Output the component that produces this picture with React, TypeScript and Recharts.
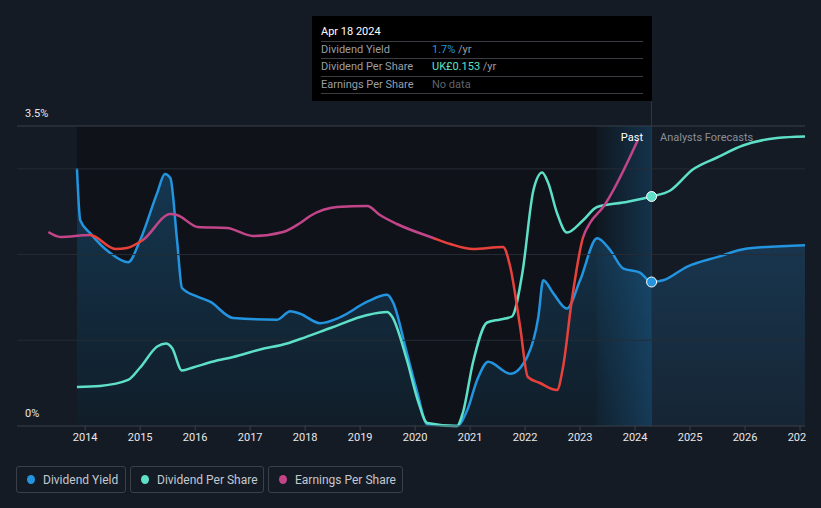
import React from 'react';
import { ComposedChart, Line, Area, XAxis, YAxis, ReferenceLine, ReferenceArea, ReferenceDot } from 'recharts';

const BG = '#151b25';
const PAST_BG = '#0f1319';
const BLUE = '#2394df';
const TEAL = '#5ee0c8';
const PINK = '#c2458a';
const RED = '#e8413b';

// dividend yield (%), past + forecast
const yieldYears = [2013.85, 2013.91, 2014.09, 2014.45, 2014.78, 2015.0, 2015.31, 2015.45, 2015.55, 2015.67, 2015.76, 2016.04, 2016.27, 2016.69, 2017.49, 2017.73, 2017.91, 2018.27, 2018.64, 2019.13, 2019.49, 2019.6, 2019.85, 2020.04, 2020.22, 2020.76, 2020.95, 2021.13, 2021.33, 2021.73, 2022.04, 2022.24, 2022.33, 2022.51, 2022.76, 2023.0, 2023.31, 2023.55, 2023.78, 2024.09, 2024.3, 2024.51, 2024.95, 2025.49, 2026.04, 2027.09];
const yieldValues = [3.01, 2.4, 2.25, 2.02, 1.91, 2.17, 2.72, 2.94, 2.89, 2.17, 1.61, 1.51, 1.45, 1.26, 1.24, 1.34, 1.31, 1.2, 1.27, 1.45, 1.53, 1.44, 0.85, 0.39, 0.02, 0.0, 0.19, 0.54, 0.75, 0.61, 0.81, 1.27, 1.7, 1.55, 1.37, 1.7, 2.19, 2.05, 1.84, 1.79, 1.68, 1.7, 1.86, 1.97, 2.07, 2.11];

// dividend per share (UK£)
const dpsYears = [2013.85, 2014.27, 2014.78, 2015.0, 2015.31, 2015.47, 2015.58, 2015.76, 2015.96, 2016.33, 2016.69, 2017.18, 2017.67, 2017.91, 2018.51, 2019.13, 2019.49, 2019.58, 2019.85, 2020.05, 2020.22, 2020.76, 2020.87, 2021.05, 2021.31, 2021.55, 2021.76, 2021.95, 2022.15, 2022.31, 2022.42, 2022.58, 2022.76, 2023.05, 2023.31, 2023.78, 2024.3, 2024.64, 2025.05, 2025.49, 2025.96, 2026.58, 2027.09];
const dpsValues = [0.026, 0.0267, 0.0307, 0.039, 0.053, 0.055, 0.052, 0.037, 0.039, 0.043, 0.046, 0.051, 0.055, 0.058, 0.066, 0.074, 0.076, 0.073, 0.044, 0.017, 0.002, 0.0, 0.009, 0.042, 0.069, 0.071, 0.073, 0.102, 0.157, 0.169, 0.162, 0.142, 0.129, 0.137, 0.146, 0.149, 0.153, 0.157, 0.171, 0.179, 0.187, 0.192, 0.193];

// earnings per share (p)
const epsYears = [2013.33, 2013.55, 2014.09, 2014.55, 2014.76, 2015.05, 2015.55, 2015.67, 2016.05, 2016.58, 2017.05, 2017.6, 2017.91, 2018.09, 2018.58, 2019.13, 2019.36, 2019.67, 2020.33, 2020.64, 2021.05, 2021.6, 2021.73, 2021.91, 2022.05, 2022.27, 2022.58, 2022.69, 2022.85, 2023.05, 2023.18, 2023.42, 2024.05];
const epsValues = [19.4, 18.9, 19.1, 17.7, 17.8, 18.6, 21.2, 21.1, 19.9, 19.8, 19.0, 19.4, 20.3, 21.0, 21.9, 22.0, 21.1, 20.2, 18.8, 18.2, 17.7, 17.9, 15.9, 9.9, 4.9, 4.3, 3.6, 5.9, 12.6, 18.8, 20.3, 21.9, 28.6];
// periods where the EPS line is drawn red
const epsRedRanges = [[2014.09, 2015.05], [2020.33, 2023.05]];

const xTicks = [2014, 2015, 2016, 2017, 2018, 2019, 2020, 2021, 2022, 2023, 2024, 2025, 2026, 2027];
const gridValues = [1, 2, 3];
const PAST_START = 2013.85;
const TODAY = 2024.3;
const HIGHLIGHT_START = 2023.3;

const yieldData = yieldYears.map((year, i) => ({ year, value: yieldValues[i] }));
const dpsData = dpsYears.map((year, i) => ({ year, value: dpsValues[i] }));
const epsData = epsYears.map((year, i) => ({ year, value: epsValues[i] }));

const epsStops = () => {
  const first = epsYears[0];
  const span = epsYears[epsYears.length - 1] - first;
  const stops: { off: number; color: string }[] = [];
  let prev = 0;
  epsRedRanges.forEach(([a, b]) => {
    const oa = (a - first) / span;
    const ob = (b - first) / span;
    stops.push({ off: prev, color: PINK }, { off: oa, color: PINK }, { off: oa, color: RED }, { off: ob, color: RED }, { off: ob, color: PINK });
    prev = ob;
  });
  stops.push({ off: 1, color: PINK });
  return stops;
};

const legendItems = [
  { name: 'Dividend Yield', color: BLUE, left: 16, width: 110 },
  { name: 'Dividend Per Share', color: TEAL, left: 130, width: 134 },
  { name: 'Earnings Per Share', color: PINK, left: 268, width: 135 },
];

const rowLabel: React.CSSProperties = { position: 'absolute', left: 9, color: '#9a9ea6' };
const rowValue: React.CSSProperties = { position: 'absolute', left: 120 };
const sep = (top: number) => (
  <div style={{ position: 'absolute', left: 9, right: 9, top, height: 1, background: '#3a3d42' }} />
);

export default function App() {
  return (
    <div style={{ position: 'absolute', left: 0, top: 0, width: 821, height: 508, background: BG, fontFamily: 'Roboto, sans-serif', overflow: 'hidden' }}>
      <svg width={0} height={0} style={{ position: 'absolute' }}>
        <defs>
          <linearGradient id="yieldFill" x1="0" y1="0" x2="0" y2="1">
            <stop offset="0%" stopColor="#2394df" stopOpacity={0.28} />
            <stop offset="100%" stopColor="#2394df" stopOpacity={0.08} />
          </linearGradient>
          <linearGradient id="hlFill" x1="0" y1="0" x2="1" y2="0">
            <stop offset="0%" stopColor="#1f7cc0" stopOpacity={0.04} />
            <stop offset="100%" stopColor="#1f7cc0" stopOpacity={0.3} />
          </linearGradient>
          <linearGradient id="epsStroke" x1="0" y1="0" x2="1" y2="0">
            {epsStops().map((s, i) => (
              <stop key={i} offset={s.off} stopColor={s.color} />
            ))}
          </linearGradient>
        </defs>
      </svg>

      <div style={{ position: 'absolute', left: 0, top: 0, width: 806, height: 460, overflow: 'hidden' }}>
        <ComposedChart width={821} height={460} margin={{ top: 126, right: 16, bottom: 4, left: 17 }}>
          <XAxis
            dataKey="year"
            type="number"
            domain={[2012.76, 2027.09]}
            allowDataOverflow
            ticks={xTicks}
            interval={0}
            height={30}
            axisLine={{ stroke: '#3b414b' }}
            tickLine={{ stroke: '#3b414b' }}
            tickSize={5}
            tick={{ fill: '#e8e8e8', fontSize: 11 }}
          />
          <YAxis yAxisId="pct" domain={[0, 3.5]} hide />
          <YAxis yAxisId="dps" domain={[0, 0.2]} hide />
          <YAxis yAxisId="eps" domain={[0, 30]} hide />
          <ReferenceArea yAxisId="pct" x1={PAST_START} x2={TODAY} y1={0} y2={3.5} fill={PAST_BG} fillOpacity={1} stroke="none" />
          <ReferenceArea yAxisId="pct" x1={HIGHLIGHT_START} x2={TODAY} y1={0} y2={3.5} fill="url(#hlFill)" fillOpacity={1} stroke="none" />
          {gridValues.map((v) => (
            <ReferenceLine key={v} yAxisId="pct" y={v} stroke="#262c36" />
          ))}
          <ReferenceLine yAxisId="pct" y={3.5} stroke="#3b414b" />
          <ReferenceLine yAxisId="pct" x={TODAY} stroke="#1e3a54" />
          <Area
            yAxisId="pct"
            data={yieldData}
            dataKey="value"
            type="monotone"
            stroke={BLUE}
            strokeWidth={2.5}
            fill="url(#yieldFill)"
            fillOpacity={1}
            dot={false}
            activeDot={false}
            isAnimationActive={false}
          />
          <Line
            yAxisId="dps"
            data={dpsData}
            dataKey="value"
            type="monotone"
            stroke={TEAL}
            strokeWidth={2.5}
            dot={false}
            activeDot={false}
            isAnimationActive={false}
          />
          <Line
            yAxisId="eps"
            data={epsData}
            dataKey="value"
            type="monotone"
            stroke="url(#epsStroke)"
            strokeWidth={2.5}
            dot={false}
            activeDot={false}
            isAnimationActive={false}
          />
          <ReferenceDot yAxisId="dps" x={TODAY} y={0.153} r={5} fill={TEAL} stroke="#ffffff" strokeWidth={1} />
          <ReferenceDot yAxisId="pct" x={TODAY} y={1.68} r={5} fill={BLUE} stroke="#ffffff" strokeWidth={1} />
        </ComposedChart>
      </div>

      <div style={{ position: 'absolute', left: 651, top: 100, width: 1, height: 26, background: '#1e3a54' }} />

      <div style={{ position: 'absolute', left: 25, top: 107, color: '#e8e8e8', fontSize: 11 }}>3.5%</div>
      <div style={{ position: 'absolute', left: 25, top: 407, color: '#e8e8e8', fontSize: 11 }}>0%</div>

      <div style={{ position: 'absolute', left: 560, width: 83, top: 131, textAlign: 'right', color: '#ffffff', fontSize: 11 }}>Past</div>
      <div style={{ position: 'absolute', left: 660, top: 131, color: '#8a8f98', fontSize: 11 }}>Analysts Forecasts</div>

      <div style={{ position: 'absolute', left: 312, top: 16, width: 340, height: 85, background: '#000000', fontSize: 11, lineHeight: '13px' }}>
        <div style={{ position: 'absolute', left: 9, top: 9, color: '#ffffff' }}>Apr 18 2024</div>
        {sep(25)}
        <div style={{ ...rowLabel, top: 27 }}>Dividend Yield</div>
        <div style={{ ...rowValue, top: 27 }}>
          <span style={{ color: BLUE }}>1.7%</span>
          <span style={{ color: '#9a9ea6' }}> /yr</span>
        </div>
        {sep(42)}
        <div style={{ ...rowLabel, top: 44 }}>Dividend Per Share</div>
        <div style={{ ...rowValue, top: 44 }}>
          <span style={{ color: TEAL }}>UK£0.153</span>
          <span style={{ color: '#9a9ea6' }}> /yr</span>
        </div>
        {sep(60)}
        <div style={{ ...rowLabel, top: 62 }}>Earnings Per Share</div>
        <div style={{ ...rowValue, top: 62, color: '#5f636a' }}>No data</div>
        {sep(77)}
      </div>

      {legendItems.map((item) => (
        <div
          key={item.name}
          style={{
            position: 'absolute',
            left: item.left,
            top: 466,
            width: item.width,
            height: 27,
            boxSizing: 'border-box',
            border: '1px solid #3a3f48',
            borderRadius: 3,
            display: 'flex',
            alignItems: 'center',
            paddingLeft: 10,
            color: '#c4c8ce',
            fontSize: 12,
          }}
        >
          <span style={{ width: 8, height: 9, borderRadius: '50%', background: item.color, marginRight: 8, display: 'inline-block' }} />
          {item.name}
        </div>
      ))}
    </div>
  );
}
